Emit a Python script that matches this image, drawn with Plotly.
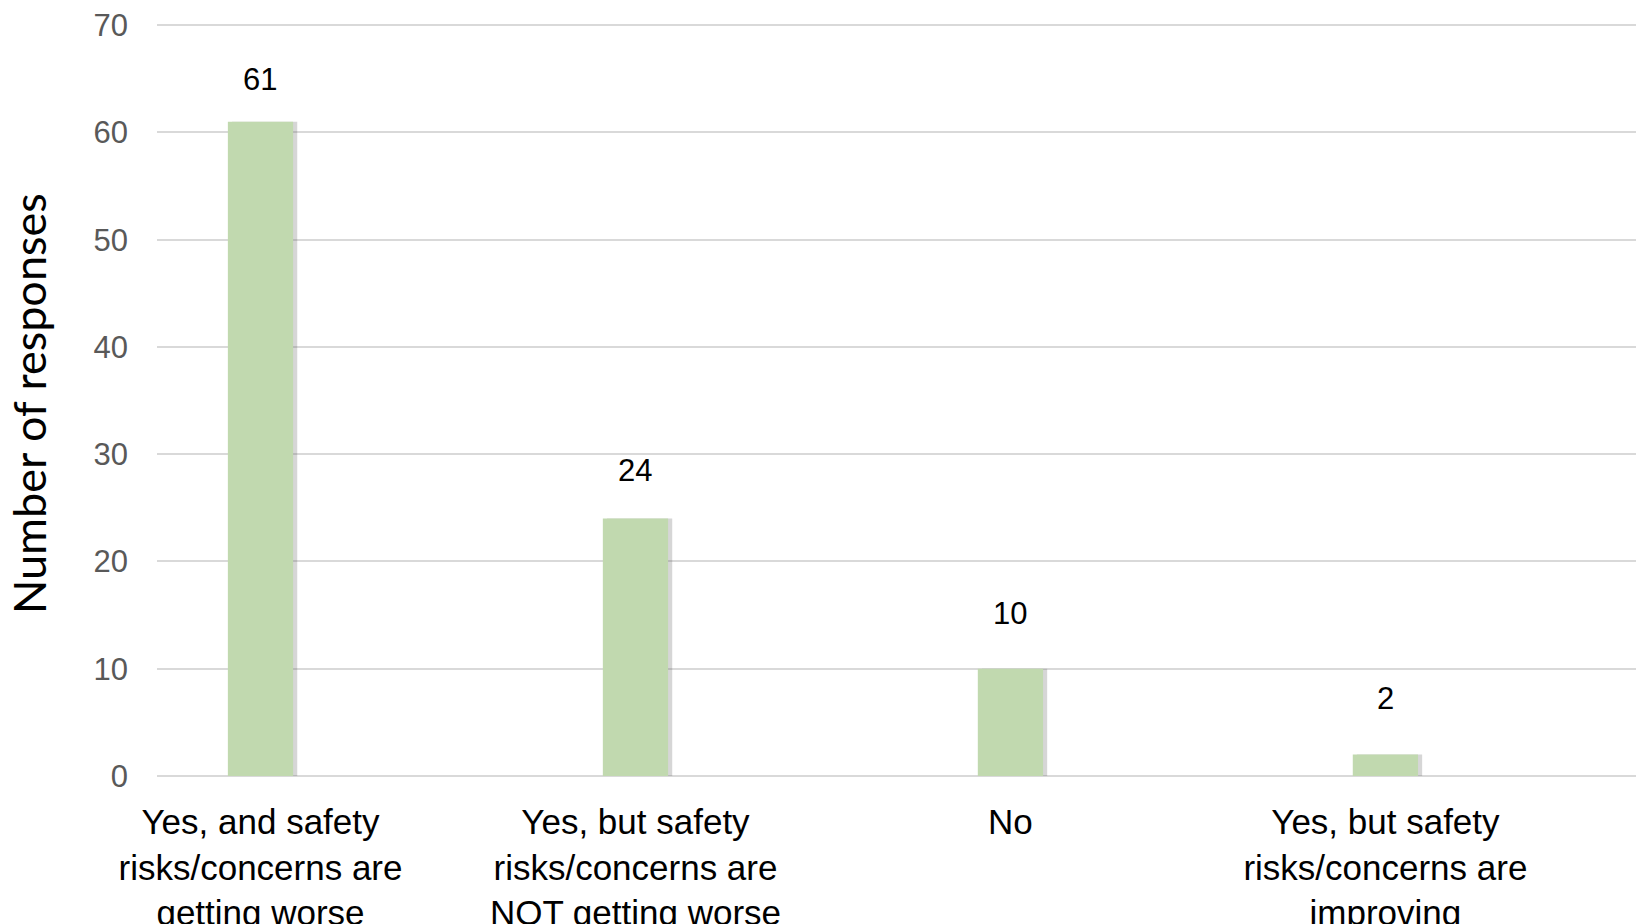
import plotly.graph_objects as go

# ---- data ----
categories = [
    "Yes, and safety<br>risks/concerns are<br>getting worse",
    "Yes, but safety<br>risks/concerns are<br>NOT getting worse",
    "No",
    "Yes, but safety<br>risks/concerns are<br>improving",
]
responses = [61, 24, 10, 2]
y_title = "Number of responses"
y_ticks = [0, 10, 20, 30, 40, 50, 60, 70]

# ---- styles ----
bar_color = "#C1D9AF"
grid_color = "#D9D9D9"
label_offsets_px = [42, 48, 55, 56]
bar_width = 0.174

fig = go.Figure()

# soft shadow behind bars (Excel-like)
fig.add_trace(go.Bar(
    x=categories, y=responses,
    width=bar_width, offset=-bar_width / 2 + 0.011,
    marker=dict(color="rgba(90,90,90,0.25)", line=dict(width=0)),
    hoverinfo="skip", showlegend=False,
))
fig.add_trace(go.Bar(
    x=categories, y=responses,
    width=bar_width, offset=-bar_width / 2,
    marker=dict(color=bar_color, line=dict(width=0)),
    showlegend=False,
))

for c, v, off in zip(categories, responses, label_offsets_px):
    fig.add_annotation(
        x=c, y=v, text=str(v), showarrow=False,
        yanchor="middle", yshift=off,
        font=dict(family="Liberation Sans, Arial", size=31, color="#000000"),
    )

# y-axis title placed as rotated annotation
fig.add_annotation(
    text=y_title, textangle=-90, showarrow=False,
    xref="paper", yref="paper", x=0, y=0.5,
    xanchor="center", yanchor="middle", xshift=-128, yshift=-5,
    font=dict(family="Lato", size=45, color="#000000"),
)

fig.update_layout(
    width=1644, height=924,
    margin=dict(l=149, r=0, t=4, b=154),
    paper_bgcolor="white", plot_bgcolor="white",
    barmode="overlay",
    showlegend=False,
    font=dict(family="Liberation Sans, Arial", color="#000000"),
)
fig.update_xaxes(
    type="category",
    range=[-0.276, 3.711],
    showgrid=False, showline=False, zeroline=False,
    ticks="", ticklabelstandoff=22,
    tickfont=dict(family="Liberation Sans, Arial", size=35, color="#000000"),
)
fig.update_yaxes(
    range=[0, 70.3],
    tickvals=y_ticks,
    ticklabeloverflow="allow",
    showgrid=True, gridcolor=grid_color, gridwidth=1.5,
    zeroline=True, zerolinecolor=grid_color, zerolinewidth=1.5,
    showline=False, ticks="", ticklabelstandoff=28,
    tickfont=dict(family="Liberation Sans, Arial", size=31, color="#595959"),
)

fig.write_html("out.html")
